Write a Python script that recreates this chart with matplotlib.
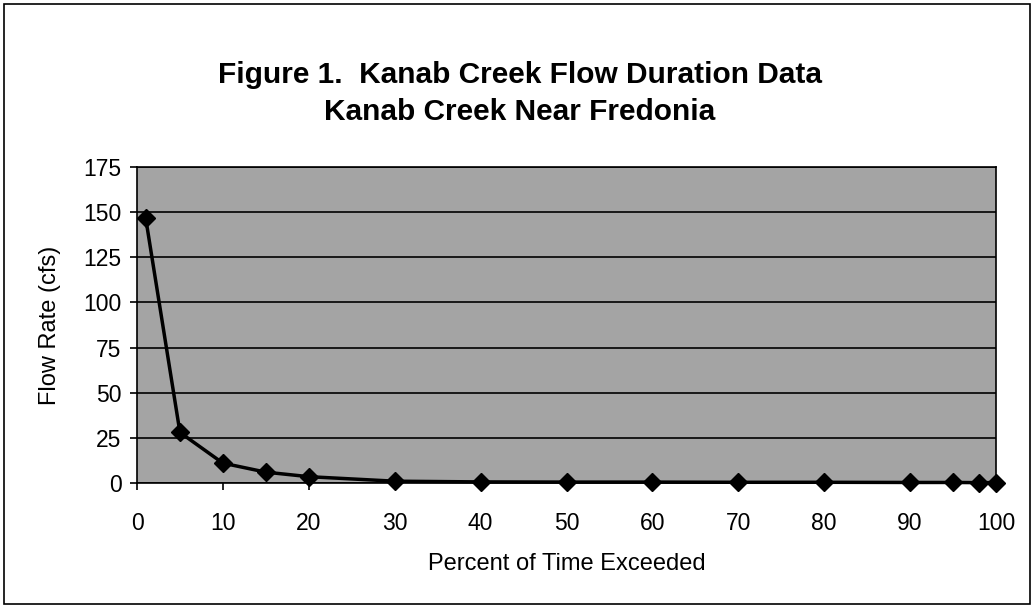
import matplotlib
matplotlib.use("Agg")
import matplotlib.pyplot as plt
from matplotlib.patches import Rectangle

# Flow duration data
percent_exceeded = [1, 5, 10, 15, 20, 30, 40, 50, 60, 70, 80, 90, 95, 98, 100]
flow_cfs = [147, 28, 11, 6, 3.5, 1, 0.6, 0.5, 0.5, 0.4, 0.4, 0.3, 0.3, 0.2, 0.2]
y_ticks = [0, 25, 50, 75, 100, 125, 150, 175]
x_ticks = [0, 10, 20, 30, 40, 50, 60, 70, 80, 90, 100]

plt.rcParams['font.family'] = ['Liberation Sans', 'DejaVu Sans']

fig = plt.figure(figsize=(10.34, 6.06), dpi=100)
ax = fig.add_axes([137 / 1034, 1 - 483 / 606, (996 - 137) / 1034, (483 - 167) / 606])

# outer frame around the chart
fig.patches.append(Rectangle((4 / 1034, 2 / 606), 1026 / 1034, 600 / 606,
                             transform=fig.transFigure, fill=False,
                             edgecolor='black', linewidth=1.2))

ax.set_facecolor('#a4a4a4')
ax.set_axisbelow(True)
ax.grid(axis='y', color='black', linewidth=1.2)

ax.plot(percent_exceeded, flow_cfs, color='black', linewidth=2.5,
        marker='D', markersize=9, clip_on=False)

ax.set_xlim(0, 100)
ax.set_ylim(0, 175)
ax.set_xticks(x_ticks)
ax.set_yticks(y_ticks)
ax.tick_params(labelsize=16.5, length=5, width=1.2, direction='out')
ax.tick_params(axis='x', pad=16)
ax.tick_params(axis='y', pad=6)
for s in ax.spines.values():
    s.set_linewidth(1.2)

ax.set_xlabel('Percent of Time Exceeded', fontsize=17, labelpad=13)
ax.set_ylabel('Flow Rate (cfs)', fontsize=17, labelpad=16)

fig.text(0.503, 1 - 75 / 606, 'Figure 1.  Kanab Creek Flow Duration Data',
         ha='center', va='center', fontsize=21.5, fontweight='bold')
fig.text(0.503, 1 - 112 / 606, 'Kanab Creek Near Fredonia',
         ha='center', va='center', fontsize=21.5, fontweight='bold')

fig.savefig('out.png', dpi=100)
